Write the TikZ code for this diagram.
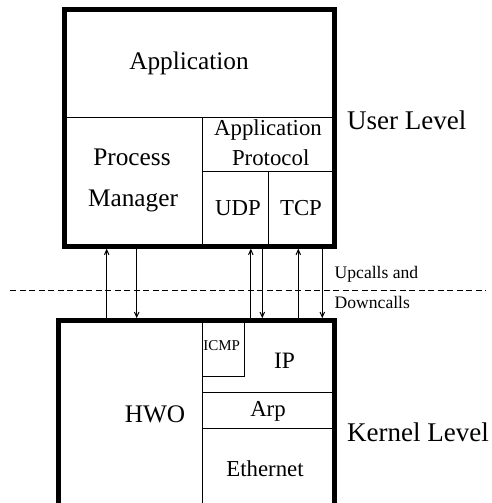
\documentclass[tikz,border=0pt]{standalone}
\usepackage{fontspec}
\setmainfont{Liberation Serif}
\usetikzlibrary{arrows.meta}
\begin{document}
\begin{tikzpicture}[x=1pt,y=-1pt,
  lbl/.style={anchor=base,inner sep=0pt,font=\fontsize{25.3}{30}\selectfont},
  mlbl/.style={anchor=base,inner sep=0pt,font=\fontsize{22.8}{27}\selectfont},
  biglbl/.style={anchor=base west,inner sep=0pt,font=\fontsize{27}{32}\selectfont},
  smalllbl/.style={anchor=base west,inner sep=0pt,font=\fontsize{17.6}{21}\selectfont},
  tinylbl/.style={anchor=base,inner sep=0pt,font=\fontsize{15}{17}\selectfont},
  frame/.style={line width=4.6pt},
  part/.style={line width=1pt},
  call/.style={line width=1pt,-{Straight Barb[length=5pt,width=4.5pt]}}]
\useasboundingbox (0,0) rectangle (492,503);
% user-level box
\coordinate (UL) at (64.7,9.8);
\coordinate (UR) at (334.7,246.3);
\draw[frame] (UL) rectangle (UR);
\draw[part] (64.7,117) -- (334.7,117);
\draw[part] (202.7,117) -- (202.7,246.3);
\draw[part] (202.7,171) -- (334.7,171);
\draw[part] (268,171) -- (268,246.3);
% kernel-level box (cut at the bottom)
\draw[frame] (58.5,503) -- (58.5,320.5) -- (334.7,320.5) -- (334.7,503);
\draw[part] (202.7,320.5) -- (202.7,503);
\draw[part] (202.7,376) -- (244,376) -- (244,320.5);
\draw[part] (202.7,392) -- (334.7,392);
\draw[part] (202.7,428) -- (334.7,428);
% labels
\node[lbl] (app) at (189,70) {Application};
\node[lbl] (proc) at (132,165) {Process};
\node[lbl] (mgr) at (133,206) {Manager};
\node[mlbl] (ap1) at (268,135.3) {Application};
\node[mlbl] (ap2) at (270.7,165.3) {Protocol};
\node[mlbl] (udp) at (238,215.3) {UDP};
\node[mlbl] (tcp) at (301,215.3) {TCP};
\node[tinylbl] (icmp) at (221.7,350) {ICMP};
\node[mlbl,font=\fontsize{23.5}{28}\selectfont] (ip) at (284.5,368.3) {IP};
\node[mlbl] (arp) at (268,416.7) {Arp};
\node[lbl] (hwo) at (155,422) {HWO};
\node[mlbl] (eth) at (265,476.7) {Ethernet};
\node[biglbl] (user) at (347,129) {User Level};
\node[biglbl] (kern) at (347,441) {Kernel Level};
\node[smalllbl] (upc) at (334.5,278) {Upcalls and};
\node[smalllbl] (dnc) at (334.5,308) {Downcalls};
% boundary
\coordinate (dl) at (10,290.7);
\coordinate (dr) at (486,290.7);
\draw[part,dash pattern=on 6pt off 3.5pt] (dl) -- (dr);
% calls
\foreach \n/\x in {a/106.7,b/136.7,c/250.8,d/262.3,e/298.3,f/322.3}{
  \coordinate (\n t) at (\x,248.6);
  \coordinate (\n b) at (\x,318.2);
}
\draw[call] (ab) -- (at);
\draw[call] (bt) -- (bb);
\draw[call] (cb) -- (ct);
\draw[call] (dt) -- (db);
\draw[call] (eb) -- (et);
\draw[call] (ft) -- (fb);
\end{tikzpicture}
\end{document}
